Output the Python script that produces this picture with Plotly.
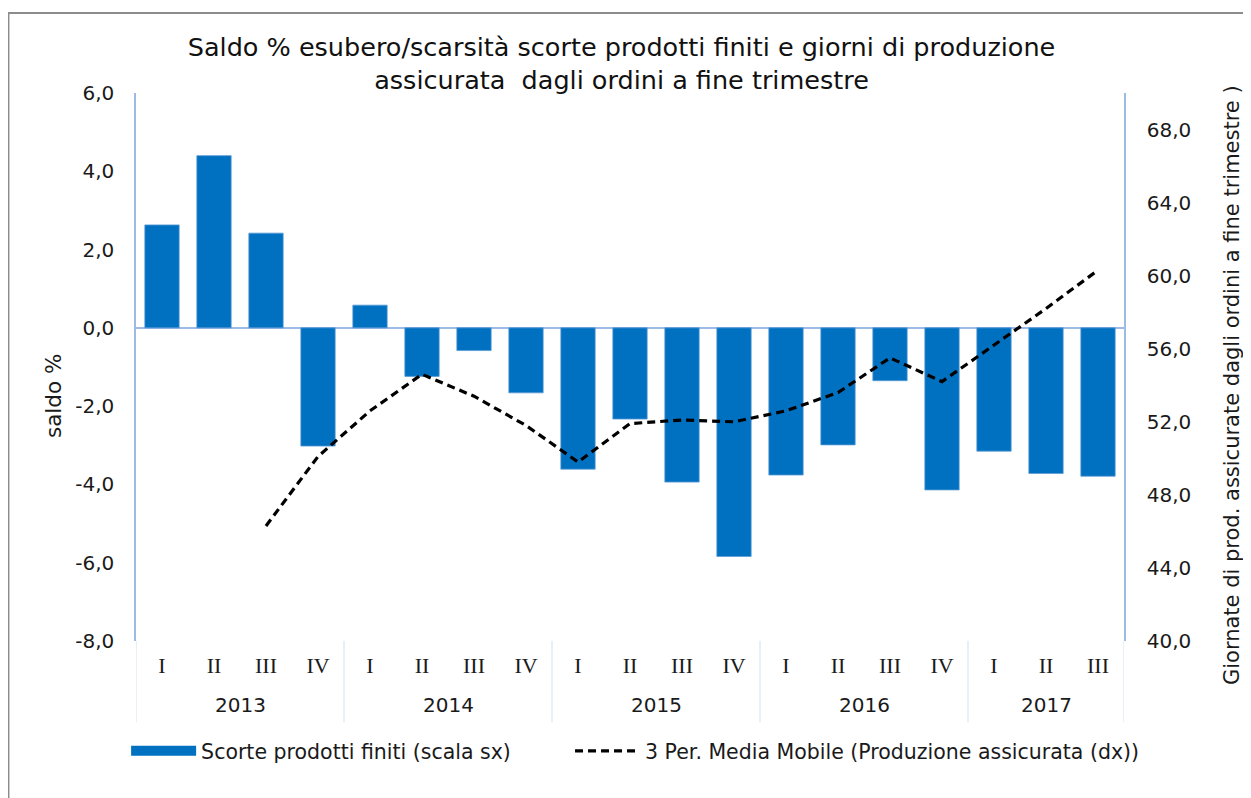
import plotly.graph_objects as go

years = ["2013", "2014", "2015", "2016", "2017"]
quarters_per_year = [["I", "II", "III", "IV"], ["I", "II", "III", "IV"], ["I", "II", "III", "IV"],
                     ["I", "II", "III", "IV"], ["I", "II", "III"]]
scorte = [2.63, 4.40, 2.42, -3.02, 0.58, -1.24, -0.58, -1.66, -3.61, -2.33, -3.94, -5.84,
          -3.76, -2.99, -1.35, -4.14, -3.15, -3.72, -3.79]
media_mobile = [None, None, 46.3, 50.1, 52.6, 54.6, 53.4, 51.8, 49.8, 51.9, 52.1, 52.0,
                52.6, 53.6, 55.5, 54.2, 56.2, 58.2, 60.3]
left_ticks = [-8, -6, -4, -2, 0, 2, 4, 6]
right_ticks = [40, 44, 48, 52, 56, 60, 64, 68]

cats, qlabels = [], []
for y, qs in zip(years, quarters_per_year):
    for q in qs:
        cats.append(f"{y}-{q}")
        qlabels.append(q)

SANS = "DejaVu Sans"
SERIF = "Liberation Serif"
AXIS_COLOR = "#9dbbe6"
BAR_COLOR = "#0070c0"
TXT = "#1a1a1a"

fig = go.Figure()
fig.add_trace(go.Bar(
    x=cats, y=scorte, name="Scorte prodotti finiti (scala sx)",
    marker=dict(color=BAR_COLOR, line=dict(color="#5b9bd5", width=0.8)),
    width=0.66, showlegend=False, legendgroup="scorte",
))
# legend entry for the bar series (wide swatch as in the original)
fig.add_trace(go.Scatter(
    x=[None], y=[None], mode="lines", name="Scorte prodotti finiti (scala sx)",
    line=dict(color=BAR_COLOR, width=14), legendgroup="scorte", hoverinfo="skip",
    legend="legend",
))
fig.add_trace(go.Scatter(
    x=cats, y=media_mobile, yaxis="y2", mode="lines",
    name="3 Per. Media Mobile (Produzione assicurata (dx))",
    line=dict(color="black", width=3.2, dash="8px,5px"),
    connectgaps=False, legend="legend2",
))

# year labels and group separators
shapes = []
annotations = []
start = 0
for y, qs in zip(years, quarters_per_year):
    n = len(qs)
    annotations.append(dict(x=start + (n - 1) / 2, y=-0.117, xref="x", yref="paper",
                            text=y, showarrow=False, font=dict(family=SANS, size=20, color=TXT),
                            yanchor="middle"))
    shapes.append(dict(type="line", xref="x", yref="paper", x0=start - 0.5, x1=start - 0.5,
                       y0=0, y1=-0.148, line=dict(color="#d3ddef", width=1)))
    start += n
shapes.append(dict(type="line", xref="x", yref="paper", x0=start - 0.5, x1=start - 0.5,
                   y0=0, y1=-0.148, line=dict(color="#d3ddef", width=1)))
# outer chart border
shapes.append(dict(type="rect", xref="paper", yref="paper", x0=-0.1291, x1=1.2, y0=-0.4, y1=1.146,
                   line=dict(color="#8c8c8c", width=2), layer="below"))

# axis titles
annotations.append(dict(x=1.1093, y=0.467, xref="paper", yref="paper", textangle=-90,
                        text="Giornate di prod. assicurate dagli ordini a fine trimestre )",
                        showarrow=False, font=dict(family=SANS, size=21, color=TXT),
                        xanchor="center", yanchor="middle"))
annotations.append(dict(x=-0.084, y=0.447, xref="paper", yref="paper", textangle=-90,
                        text="saldo %", showarrow=False,
                        font=dict(family=SANS, size=21.5, color=TXT),
                        xanchor="center", yanchor="middle"))

fmt = lambda v: f"{v:.1f}".replace(".", ",")
legend_common = dict(orientation="h", y=-0.2007, xanchor="left", yanchor="middle",
                     font=dict(family=SANS, size=20.5, color=TXT), itemwidth=65,
                     bgcolor="rgba(0,0,0,0)")

fig.update_layout(
    width=1243, height=790,
    margin=dict(l=128, r=127, t=85, b=157),
    paper_bgcolor="white", plot_bgcolor="white",
    font=dict(family=SANS, color=TXT, size=20),
    title=dict(text="Saldo % esubero/scarsità scorte prodotti finiti e giorni di produzione<br>assicurata  dagli ordini a fine trimestre",
               x=0.4936, xanchor="center", y=0.939, yanchor="middle",
               font=dict(family=SANS, size=25.5, color="#111")),
    xaxis=dict(type="category", tickmode="array", tickvals=cats, ticktext=qlabels,
               tickfont=dict(family=SERIF, size=22, color=TXT), showline=False,
               showgrid=False, ticks="", range=[-0.5, len(cats) - 0.5],
               ticklabelstandoff=9, automargin=False),
    yaxis=dict(range=[-8, 6], tickvals=left_ticks, ticktext=[fmt(v) for v in left_ticks],
               showgrid=False, zeroline=True, zerolinecolor=AXIS_COLOR, zerolinewidth=1.5,
               showline=True, linecolor=AXIS_COLOR, linewidth=1.5, ticks="",
               tickfont=dict(family=SANS, size=20, color=TXT), ticklabelstandoff=16,
               automargin=False),
    yaxis2=dict(range=[40, 70], tickvals=right_ticks, ticktext=[fmt(v) for v in right_ticks],
                overlaying="y", side="right", showgrid=False, zeroline=False,
                showline=True, linecolor=AXIS_COLOR, linewidth=1.5, ticks="",
                tickfont=dict(family=SANS, size=20, color=TXT), ticklabelstandoff=17,
                automargin=False),
    legend=dict(x=-0.010, **legend_common),
    legend2=dict(x=0.4393, **legend_common),
    shapes=shapes, annotations=annotations,
)

fig.write_html("out.html")
